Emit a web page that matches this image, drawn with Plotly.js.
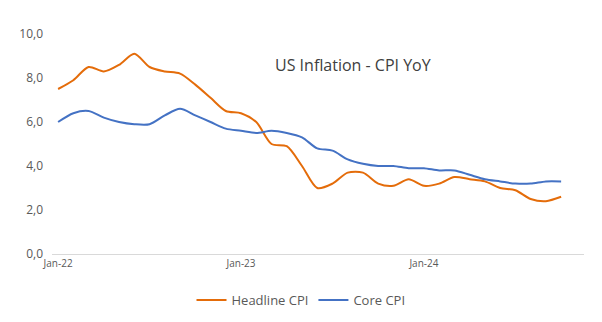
<!DOCTYPE html>
<html><head><meta charset="utf-8">
<script src="https://cdn.plot.ly/plotly-3.0.1.min.js"></script>
<style>html,body{margin:0;padding:0;background:#fff}#c{width:602px;height:322px}</style>
</head><body><div id="c"></div>
<script>
const months = ["Jan-22","Feb-22","Mar-22","Apr-22","May-22","Jun-22","Jul-22","Aug-22","Sep-22","Oct-22","Nov-22","Dec-22",
"Jan-23","Feb-23","Mar-23","Apr-23","May-23","Jun-23","Jul-23","Aug-23","Sep-23","Oct-23","Nov-23","Dec-23",
"Jan-24","Feb-24","Mar-24","Apr-24","May-24","Jun-24","Jul-24","Aug-24","Sep-24","Oct-24"];
const headline = [7.5,7.9,8.5,8.3,8.6,9.1,8.5,8.3,8.2,7.7,7.1,6.5,6.4,6.0,5.0,4.9,4.0,3.0,3.2,3.7,3.7,3.2,3.1,3.4,3.1,3.2,3.5,3.4,3.3,3.0,2.9,2.5,2.4,2.6];
const core = [6.0,6.4,6.5,6.2,6.0,5.9,5.9,6.3,6.6,6.3,6.0,5.7,5.6,5.5,5.6,5.5,5.3,4.8,4.7,4.3,4.1,4.0,4.0,3.9,3.9,3.8,3.8,3.6,3.4,3.3,3.2,3.2,3.3,3.3];
const tickLabels = ["Jan-22","Jan-23","Jan-24"];
const idx = months.map((m,i)=>i);
const tickIdx = tickLabels.map(t=>months.indexOf(t));
const font = "Open Sans, Noto Sans, sans-serif";
Plotly.newPlot('c', [
 {x: idx, y: headline, name: 'Headline CPI', type: 'scatter', mode: 'lines', line: {color: '#E46C0A', width: 2, shape: 'spline', smoothing: 0.8}},
 {x: idx, y: core, name: 'Core CPI', type: 'scatter', mode: 'lines', line: {color: '#4472C4', width: 2, shape: 'spline', smoothing: 0.8}}
], {
 width: 602, height: 322,
 margin: {l: 52, r: 18, t: 34, b: 68},
 paper_bgcolor: '#fff', plot_bgcolor: '#fff',
 separators: ',.',
 font: {family: font, color: '#595959'},
 showlegend: true,
 legend: {orientation: 'h', xref: 'container', yref: 'container', x: 0.5, xanchor: 'center', y: 0.068, yanchor: 'middle',
   font: {size: 13, color: '#595959'}, itemwidth: 30, tracegroupgap: 0},
 xaxis: {automargin: false, range: [-0.4, 34.5], tickvals: tickIdx, ticktext: tickLabels, showgrid: false, zeroline: false,
   showline: true, linecolor: '#d9d9d9', linewidth: 1, ticks: '', tickfont: {size: 10, color: '#595959'}},
 yaxis: {automargin: false, range: [0, 10], dtick: 2, tickformat: '.1f', showgrid: false, zeroline: false, showline: false,
   ticks: '', ticklabelstandoff: 8, tickfont: {size: 12, color: '#595959'}},
 annotations: [{text: 'US Inflation - CPI YoY', xref: 'paper', yref: 'paper', x: 0.565, y: 0.86, xanchor: 'center', yanchor: 'middle',
   showarrow: false, font: {size: 16, color: '#404040', family: font}}]
}, {displayModeBar: false, staticPlot: true});
</script></body></html>
